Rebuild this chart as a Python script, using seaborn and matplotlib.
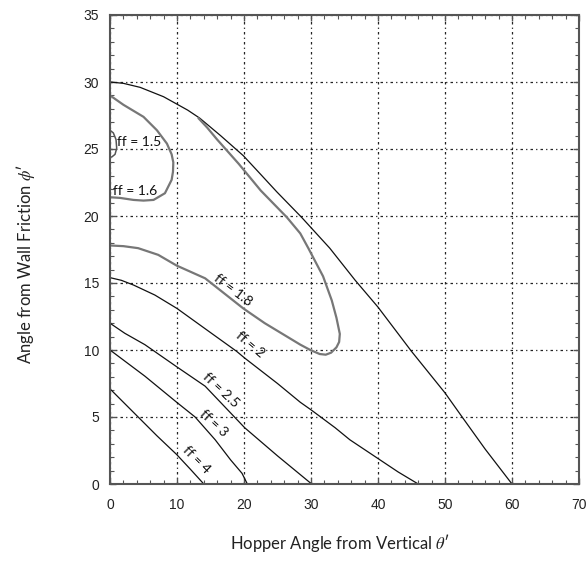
import seaborn as sns
import matplotlib.pyplot as plt
from matplotlib.ticker import MultipleLocator

# curves: hopper angle (x) vs wall friction angle (y)
outer_x = [0, 2, 4.5, 8, 11.6, 13.4, 16.5, 19.9, 22.5, 24.9, 28.6, 32.8, 36.6, 40, 45, 50, 52.7, 56, 60]
outer_y = [30, 29.9, 29.6, 28.9, 27.9, 27.3, 26.0, 24.5, 23.1, 21.8, 19.9, 17.6, 15.2, 13.2, 9.9, 6.8, 4.9, 2.6, 0]

ff15_x = [0, 0.5, 0.9, 1.0, 0.75, 0.25, 0]
ff15_y = [26.4, 26.2, 25.7, 25.05, 24.6, 24.4, 24.4]

ff16_x = [0, 2, 5, 7, 8.5, 9.2, 9.45, 9.4, 9.2, 8.2, 6.5, 5, 3.5, 1.5, 0]
ff16_y = [29.0, 28.3, 27.4, 26.4, 25.4, 24.6, 24.0, 23.3, 22.7, 21.7, 21.2, 21.15, 21.2, 21.35, 21.4]

ff18_x = [13.2, 14.5, 16, 17.6, 19.2, 22.5, 26.4, 28.4, 29.6, 31.8, 33.1, 33.8, 34.3, 34.2, 33.8, 33.0,
          32.2, 31.3, 29.9, 28.4, 23.1, 19.9, 14.2, 9.95, 7.2, 4.2, 2, 0]
ff18_y = [27.3, 26.6, 25.7, 24.8, 23.9, 21.9, 19.9, 18.7, 17.6, 15.5, 13.7, 12.4, 11.2, 10.6, 10.2, 9.8,
          9.65, 9.7, 10.0, 10.4, 12.0, 13.1, 15.35, 16.3, 17.1, 17.6, 17.75, 17.8]

ff2_x = [0, 1.7, 3.5, 6.7, 10, 15, 18.9, 20.1, 25, 28.4, 30.1, 33.6, 35.8, 40, 43, 46]
ff2_y = [15.4, 15.2, 14.85, 14.1, 13.1, 11.3, 9.9, 9.4, 7.5, 6.1, 5.5, 4.2, 3.3, 1.9, 0.9, 0]

ff25_x = [0, 2.2, 5.2, 9.95, 14.2, 20.1, 25, 30.1]
ff25_y = [12.0, 11.25, 10.4, 8.75, 7.3, 4.2, 2.1, 0]

ff3_x = [0, 5.2, 9.95, 12.7, 15.7, 18, 19.7, 20.5]
ff3_y = [10.0, 8.05, 6.1, 5.0, 3.3, 1.8, 0.8, 0]

ff4_x = [0, 2, 4.2, 7, 9.95, 12, 14.0]
ff4_y = [7.1, 6.1, 5.0, 3.6, 2.2, 1.1, 0]

# labels: text, x, y, angle
label_text = ["ff = 1.5", "ff = 1.6", "ff = 1.8", "ff = 2", "ff = 2.5", "ff = 3", "ff = 4"]
label_x = [4.4, 3.8, 18.4, 20.9, 16.5, 15.5, 12.9]
label_y = [25.5, 21.9, 14.45, 10.4, 7.0, 4.5, 1.8]
label_rot = [0, 0, -37, -40, -43, -43, -45]

sns.set_style("white")
plt.rcParams['font.family'] = ['Liberation Sans', 'DejaVu Sans']
plt.rcParams['mathtext.fontset'] = 'stix'

fig = plt.figure(figsize=(5.87, 5.67), dpi=100)
ax = fig.add_axes([110 / 587, 1 - 484 / 567, 469 / 587, 469 / 567])

dark = "#111111"
grey = "#777777"
curves = [
    (outer_x, outer_y, dark, 0.9),
    (ff15_x, ff15_y, "#555555", 1.1),
    (ff16_x, ff16_y, grey, 1.6),
    (ff18_x, ff18_y, grey, 1.6),
    (ff2_x, ff2_y, dark, 0.9),
    (ff25_x, ff25_y, dark, 0.9),
    (ff3_x, ff3_y, dark, 0.9),
    (ff4_x, ff4_y, dark, 0.9),
]
for xs, ys, c, lw in curves:
    sns.lineplot(x=xs, y=ys, sort=False, estimator=None, color=c, linewidth=lw, ax=ax)

for t, x, y, r in zip(label_text, label_x, label_y, label_rot):
    ax.text(x, y, t, rotation=r, rotation_mode="anchor", ha="center", va="center",
            fontsize=10, family=["Lato", "DejaVu Sans"], color="#111111")

ax.set_xlim(0, 70)
ax.set_ylim(0, 35)
ax.xaxis.set_major_locator(MultipleLocator(10))
ax.xaxis.set_minor_locator(MultipleLocator(2))
ax.yaxis.set_major_locator(MultipleLocator(5))
ax.yaxis.set_minor_locator(MultipleLocator(1))

ax.grid(True, which="major", linestyle=(0, (2, 2.5, 1, 2.5)), linewidth=0.9, color="#222222")
for s in ax.spines.values():
    s.set_color("#555555")
    s.set_linewidth(1.5)

ax.tick_params(which="both", direction="in", top=True, right=True, bottom=True, left=True,
               color="#555555", labelsize=10, labelcolor="#222222")
ax.tick_params(which="major", length=4.5, width=1)
ax.tick_params(which="minor", length=3, width=0.8)
ax.tick_params(axis="x", which="major", pad=10)
ax.tick_params(axis="y", which="major", pad=8)

ax.set_xlabel("Hopper Angle from Vertical $\\theta$\u2032", fontsize=12,
              family=["Lato", "DejaVu Sans"], color="#222222")
ax.set_ylabel("Angle from Wall Friction $\\phi$\u2032", fontsize=12,
              family=["Lato", "DejaVu Sans"], color="#222222")
ax.xaxis.set_label_coords(0.49, -0.126)
ax.xaxis.label.set_va("center")
ax.yaxis.set_label_coords(-0.18, 0.47)
ax.yaxis.label.set_va("center")

fig.savefig("out.png", dpi=100)
